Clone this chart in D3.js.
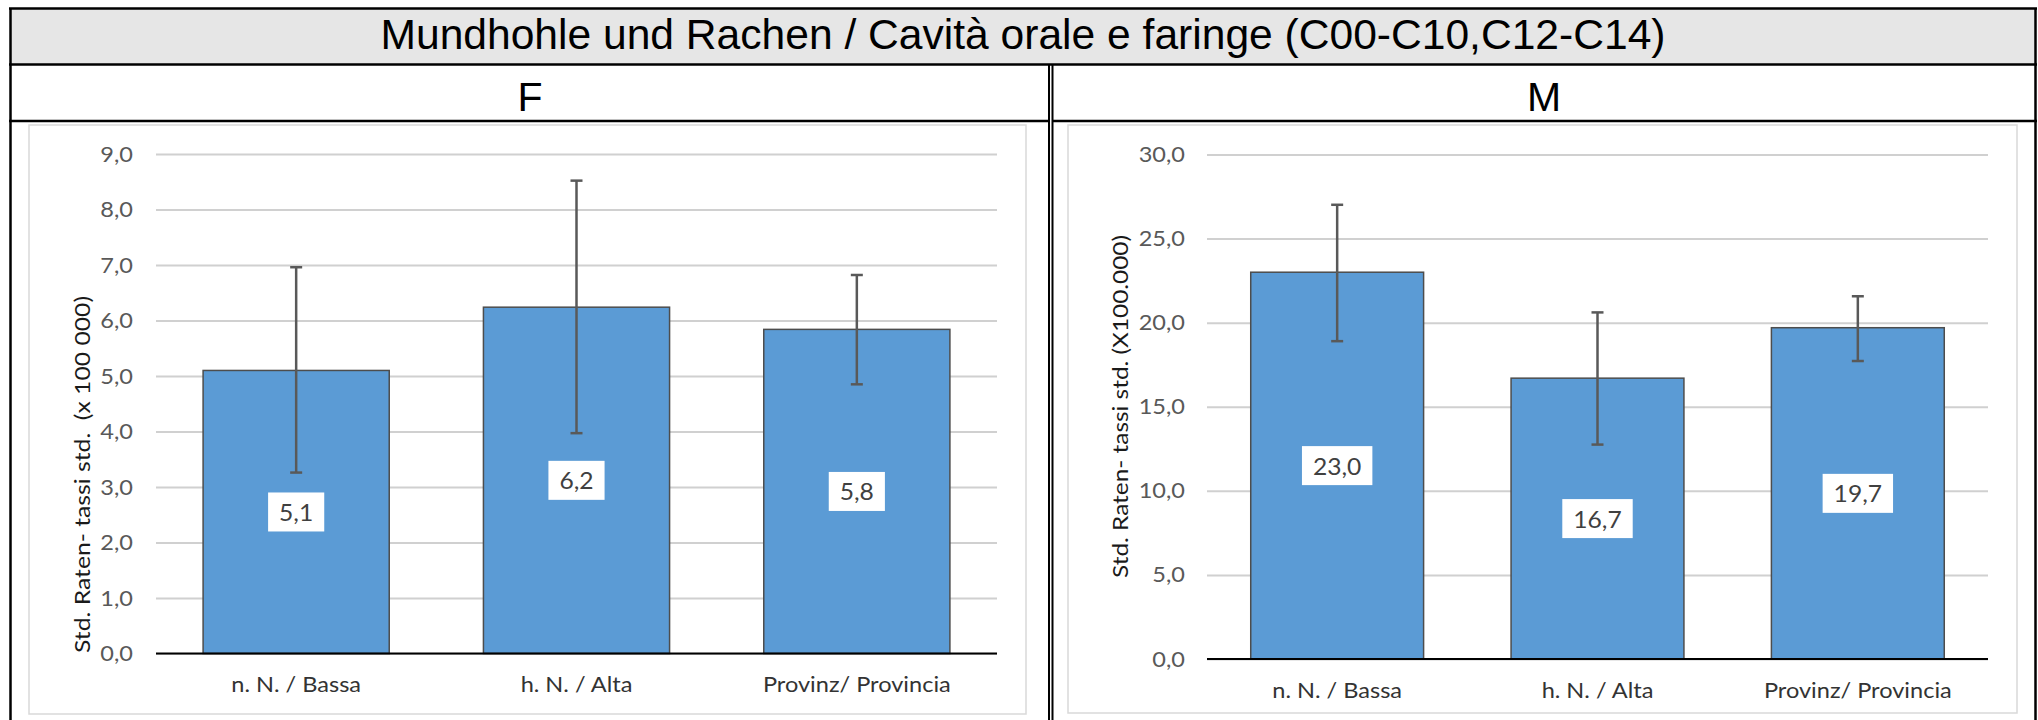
<!DOCTYPE html>
<html><head><meta charset="utf-8">
<script src="https://cdn.jsdelivr.net/npm/d3@7"></script>
<style>
body{margin:0;background:#fff;}
svg{display:block}
text{white-space:pre}
</style>
</head><body><svg id="c" width="2038" height="720"></svg>
<script>
// ---------- data ----------
const chartTitle = "Mundhohle und Rachen / Cavità orale e faringe (C00-C10,C12-C14)";
const categories = ["n. N. / Bassa", "h. N. / Alta", "Provinz/ Provincia"];
const panelNames = ["F", "M"];
const valuesF = [5.1, 6.24, 5.84];
const lowerF  = [3.26, 3.97, 4.85];
const upperF  = [6.96, 8.52, 6.82];
const valuesM = [23.0, 16.7, 19.7];
const lowerM  = [18.9, 12.75, 17.72];
const upperM  = [27.01, 20.61, 21.57];
const ticksF = [0, 1, 2, 3, 4, 5, 6, 7, 8, 9];
const ticksM = [0, 5, 10, 15, 20, 25, 30];
const yTitleF = "Std. Raten- tassi std.  (x 100 000)";
const yTitleM = "Std. Raten- tassi std. (X100.000)";

// ---------- layout ----------
const svg = d3.select("#c");
const W = 2038, H = 720;
const CAL = "Lato, 'Noto Sans', sans-serif";
const ARIAL = "'Liberation Sans', Arial, sans-serif";
const STRETCH = 1.07;
const fmt = v => d3.format(".1f")(v).replace(".", ",");
function widen(sel) {
  sel.each(function () {
    const n = this.getComputedTextLength();
    d3.select(this).attr("textLength", n * STRETCH).attr("lengthAdjust", "spacingAndGlyphs");
  });
}

const panels = [
  {name: panelNames[0], values: valuesF, lo: lowerF, hi: upperF, ticks: ticksF, yTitle: yTitleF,
   cx: 530, box: [29, 125, 997, 589], px: [156, 997], py: [653.5, 154], tickRight: 133,
   yTitleX: 81, yTitleCY: 474.5, yTitleLen: 357},
  {name: panelNames[1], values: valuesM, lo: lowerM, hi: upperM, ticks: ticksM, yTitle: yTitleM,
   cx: 1544, box: [1068, 125, 949, 588], px: [1207, 1988], py: [659, 154.5], tickRight: 1185,
   yTitleX: 1119, yTitleCY: 406.5, yTitleLen: 343}
];

// title band
svg.append("rect").attr("x", 10).attr("y", 8).attr("width", 2026).attr("height", 56).attr("fill", "#e6e6e6");
svg.append("text").attr("x", 1023).attr("y", 49).attr("text-anchor", "middle")
  .attr("font-family", ARIAL).attr("font-size", 43).attr("fill", "#000")
  .attr("textLength", 1285).attr("lengthAdjust", "spacingAndGlyphs")
  .text(chartTitle);

// frame lines
const frame = svg.append("g").attr("stroke", "#000").attr("fill", "none");
frame.append("line").attr("x1", 9).attr("x2", 2037).attr("y1", 8.5).attr("y2", 8.5).attr("stroke-width", 2.5);
frame.append("line").attr("x1", 9).attr("x2", 2037).attr("y1", 64.5).attr("y2", 64.5).attr("stroke-width", 2.5);
frame.append("line").attr("x1", 9).attr("x2", 1050).attr("y1", 121).attr("y2", 121).attr("stroke-width", 2.5);
frame.append("line").attr("x1", 1052).attr("x2", 2037).attr("y1", 121).attr("y2", 121).attr("stroke-width", 2.5);
frame.append("line").attr("x1", 10.5).attr("x2", 10.5).attr("y1", 8).attr("y2", H).attr("stroke-width", 2.5);
frame.append("line").attr("x1", 2035.5).attr("x2", 2035.5).attr("y1", 8).attr("y2", H).attr("stroke-width", 2.5);
frame.append("line").attr("x1", 1049).attr("x2", 1049).attr("y1", 64).attr("y2", H).attr("stroke-width", 2);
frame.append("line").attr("x1", 1052.5).attr("x2", 1052.5).attr("y1", 64).attr("y2", H).attr("stroke-width", 2);

panels.forEach(p => {
  const g = svg.append("g");
  // panel header
  g.append("text").attr("x", p.cx).attr("y", 111).attr("text-anchor", "middle")
    .attr("font-family", ARIAL).attr("font-size", 41).attr("fill", "#000").text(p.name);
  // chart box
  g.append("rect").attr("x", p.box[0]).attr("y", p.box[1]).attr("width", p.box[2]).attr("height", p.box[3])
    .attr("fill", "#fff").attr("stroke", "#d9d9d9").attr("stroke-width", 1.5);

  const x = d3.scaleBand().domain(categories).range(p.px).paddingInner(0.336).paddingOuter(0.168);
  const y = d3.scaleLinear().domain([p.ticks[0], p.ticks[p.ticks.length - 1]]).range(p.py);

  // gridlines + tick labels
  const yAxis = d3.axisLeft(y).tickValues(p.ticks).tickSize(-(p.px[1] - p.px[0])).tickFormat(fmt).tickPadding(p.px[0] - p.tickRight);
  const ga = g.append("g").attr("transform", `translate(${p.px[0]},0)`).call(yAxis);
  ga.select(".domain").remove();
  ga.selectAll(".tick line").attr("stroke", "#d0d0d0").attr("stroke-width", 2);
  ga.selectAll(".tick text").attr("font-family", CAL).attr("font-size", 22).attr("fill", "#595959").call(widen);

  // bars
  const data = categories.map((c, i) => ({c, v: p.values[i], lo: p.lo[i], hi: p.hi[i]}));
  g.selectAll("rect.bar").data(data).enter().append("rect").attr("class", "bar")
    .attr("x", d => x(d.c)).attr("width", x.bandwidth())
    .attr("y", d => y(d.v)).attr("height", d => y(0) - y(d.v))
    .attr("fill", "#5b9bd5").attr("stroke", "#4d4d4d").attr("stroke-width", 1.5);

  // x axis baseline + labels
  const xAxis = d3.axisBottom(x).tickSize(0).tickPadding(23);
  const gx = g.append("g").attr("transform", `translate(0,${y(0)})`).call(xAxis);
  gx.select(".domain").attr("stroke", "#000").attr("stroke-width", 2)
    .attr("d", `M${p.px[0]},0H${p.px[1]}`);
  gx.selectAll(".tick text").attr("font-family", CAL).attr("font-size", 22).attr("fill", "#333").call(widen);

  // error bars
  const eb = g.append("g").attr("stroke", "#595959").attr("stroke-width", 2.5);
  data.forEach(d => {
    const cx = x(d.c) + x.bandwidth() / 2;
    eb.append("line").attr("x1", cx).attr("x2", cx).attr("y1", y(d.hi)).attr("y2", y(d.lo));
    eb.append("line").attr("x1", cx - 6).attr("x2", cx + 6).attr("y1", y(d.hi)).attr("y2", y(d.hi));
    eb.append("line").attr("x1", cx - 6).attr("x2", cx + 6).attr("y1", y(d.lo)).attr("y2", y(d.lo));
  });

  // data labels
  data.forEach(d => {
    const cx = x(d.c) + x.bandwidth() / 2;
    const cy = (y(d.v) + y(0)) / 2;
    const t = g.append("text").attr("x", cx).attr("y", cy).attr("text-anchor", "middle")
      .attr("dominant-baseline", "central").attr("font-family", CAL).attr("font-size", 23)
      .attr("fill", "#404040").text(fmt(d.v));
    const nat = t.node().getComputedTextLength();
    t.call(widen);
    const bw = nat * STRETCH + 22;
    g.insert("rect", () => t.node()).attr("x", cx - bw / 2).attr("y", cy - 19.5)
      .attr("width", bw).attr("height", 39).attr("fill", "#fff");
  });

  // y title
  g.append("text").attr("transform", `translate(${p.yTitleX},${p.yTitleCY}) rotate(-90)`)
    .attr("text-anchor", "middle").attr("dominant-baseline", "central")
    .attr("font-family", CAL).attr("font-size", 22).attr("fill", "#1a1a1a")
    .attr("textLength", p.yTitleLen).attr("lengthAdjust", "spacingAndGlyphs")
    .text(p.yTitle);
});
</script>
</body></html>
